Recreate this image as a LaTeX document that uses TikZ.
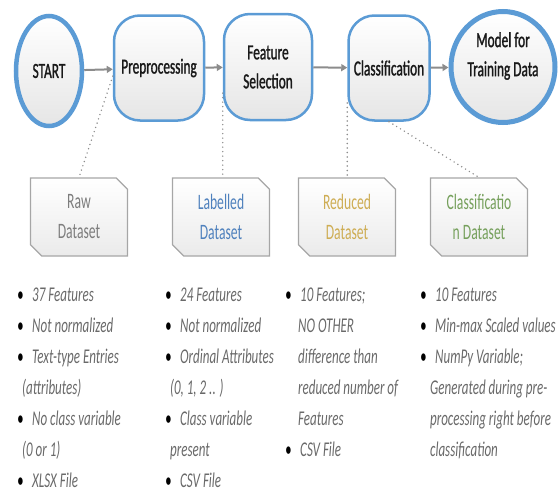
\documentclass[tikz,border=0pt]{standalone}
\usepackage{fontspec}
\setmainfont{Carlito}[FakeStretch=0.62]
\newfontfamily\stagefont{Carlito}[FakeStretch=0.62,FakeBold=1.2]
\usepackage{tikz}
\usetikzlibrary{shapes.geometric,shapes.misc,arrows.meta}
\definecolor{stageblue}{RGB}{91,155,213}
\definecolor{linegray}{RGB}{140,140,140}
\definecolor{rawgray}{RGB}{125,125,125}
\definecolor{labelblue}{RGB}{79,129,189}
\definecolor{reducedgold}{RGB}{206,173,84}
\definecolor{classgreen}{RGB}{118,160,92}
\definecolor{listgray}{RGB}{105,105,105}
\newcommand{\bl}{\makebox[15pt][l]{\color{black}\textbullet}}
\newcommand{\cl}[1][5pt]{\hspace*{#1}}

\begin{document}
\begin{tikzpicture}[x=1pt,y=-1pt,
	every node/.style={font=\stagefont\fontsize{21.5}{29}\selectfont},
	stage/.style={shape=rectangle, rounded corners=26pt, draw=stageblue, line width=2.5pt,
		align=center, top color=white, bottom color=black!10, text=black!90},
	endpoint/.style={ellipse, draw=stageblue, line width=4.5pt, align=center,
		top color=white, bottom color=black!10, text=black!90, inner sep=0pt},
	dataset/.style={chamfered rectangle, chamfered rectangle corners={north east,south west},
		chamfered rectangle xsep=8pt, draw=black!35, line width=1.2pt, top color=white,
		bottom color=black!8, minimum width=97pt, minimum height=78pt, align=center,
		text=rawgray, font=\rmfamily\fontsize{22}{30}\selectfont},
	flow/.style={-{Triangle[length=6pt,width=7pt]}, draw=linegray, line width=2pt},
	link/.style={draw=black!45, line width=1.6pt, line cap=round, dash pattern=on 0pt off 4.5pt},
	itemlist/.style={anchor=north west, inner sep=0pt, align=left, text=listgray,
		font=\rmfamily\fontsize{21}{31}\selectfont\itshape}]
	\useasboundingbox (0,0) rectangle (559,488);

	\node[endpoint, minimum width=66pt, minimum height=110pt] (start) at (49,71) {START};
	\node[stage, minimum width=90pt, minimum height=105pt] (prep) at (159,68) {Preprocessing};
	\node[stage, minimum width=88pt, minimum height=106pt] (feat) at (268,67) {Feature\\Selection};
	\node[stage, minimum width=81pt, minimum height=105pt] (clas) at (389,68) {Classification};
	\node[endpoint, line width=5pt, minimum width=104pt, minimum height=111pt] (model) at (503,67) {};
	\node[align=center, text=black!90] (modeltext) at (503,56) {Model for\\Training Data};

	\draw[flow] (start) -- (prep);
	\draw[flow] (prep) -- (feat);
	\draw[flow] (feat) -- (clas);
	\draw[flow] (clas) -- (model);

	\node[dataset] (raw) at (79,217) {Raw\\Dataset};
	\node[dataset, text=labelblue] (labelled) at (221,217) {Labelled\\Dataset};
	\node[dataset, text=reducedgold] (reduced) at (347,217) {Reduced\\Dataset};
	\node[dataset, text=classgreen] (clasdata) at (479,217) {Classificatio\\n Dataset};

	\draw[link] (prep.190) -- (raw.north);
	\draw[link] (feat.210) -- (feat.210 |- labelled.north);
	\draw[link] (clas.220) -- (clas.220 |- reduced.north);
	\draw[link] (clas.south) -- (clasdata.north);

	\node[itemlist] (rawlist) at (17,288) {\bl 37 Features\\ \bl Not normalized\\
		\bl Text-type Entries\\ \cl (attributes)\\ \bl No class variable\\ \cl (0 or 1)\\
		\bl XLSX File};
	\node[itemlist] (labelledlist) at (165,288) {\bl 24 Features\\ \bl Not normalized\\
		\bl Ordinal Attributes\\ \cl[2pt] (0, 1, 2 .. )\\ \bl Class variable\\ \cl[2pt] present\\
		\bl CSV File};
	\node[itemlist] (reducedlist) at (285,288) {\bl 10 Features;\\ \cl[10pt] NO OTHER\\
		\cl[10pt] difference than\\ \cl[10pt] reduced number of\\ \cl[10pt] Features\\
		\bl CSV File};
	\node[itemlist] (clasdatalist) at (420,288) {\bl 10 Features\\ \bl Min-max Scaled values\\
		\bl NumPy Variable;\\ \cl[7pt] Generated during pre-\\ \cl[7pt] processing right before\\
		\cl[7pt] classification};
\end{tikzpicture}
\end{document}
